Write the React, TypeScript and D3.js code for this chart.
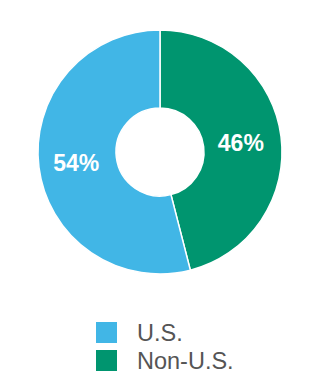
import React from "react";
import * as d3 from "d3";

const categories = ["U.S.", "Non-U.S."];
const values = [54, 46];
const colors = ["#41b6e6", "#00956f"];

export default function App() {
  const width = 320;
  const height = 380;
  const cx = 160;
  const cy = 152;
  const outerR = 122;
  const innerR = 44;

  const data = categories.map((c, i) => ({ name: c, value: values[i], color: colors[i] }));
  const order = [1, 0];
  const pie = d3
    .pie<any>()
    .value((d: any) => d.value)
    .sort(null);
  const arcs = pie(order.map((i) => data[i]));
  const arc = d3.arc<any>().innerRadius(innerR).outerRadius(outerR);
  const labelArc = d3.arc<any>().innerRadius((innerR + outerR) / 2).outerRadius((innerR + outerR) / 2);

  return (
    <svg width={width} height={height} style={{ position: "absolute", left: 0, top: 0, background: "#fff" }}>
      <g transform={`translate(${cx},${cy})`}>
        {arcs.map((a, i) => (
          <path key={i} d={arc(a) as string} fill={a.data.color} stroke="#fff" strokeWidth={1.5} />
        ))}
        {arcs.map((a, i) => {
          const [x, y] = labelArc.centroid(a);
          return (
            <text
              key={"l" + i}
              x={x - 1.5}
              y={y + 1}
              textAnchor="middle"
              dominantBaseline="central"
              fill="#fff"
              style={{ fontFamily: "'Liberation Sans', Arial, sans-serif", fontWeight: 700, fontSize: "23px" }}
            >
              {a.data.value}%
            </text>
          );
        })}
      </g>
      <g>
        {data.map((d, i) => (
          <g key={d.name} transform={`translate(96,${322 + i * 28})`}>
            <rect width={21} height={21} fill={d.color} />
            <text
              x={41}
              y={11}
              dominantBaseline="central"
              fill="#555"
              style={{ fontFamily: "'Liberation Sans', Arial, sans-serif", fontSize: "23.5px" }}
            >
              {d.name}
            </text>
          </g>
        ))}
      </g>
    </svg>
  );
}
